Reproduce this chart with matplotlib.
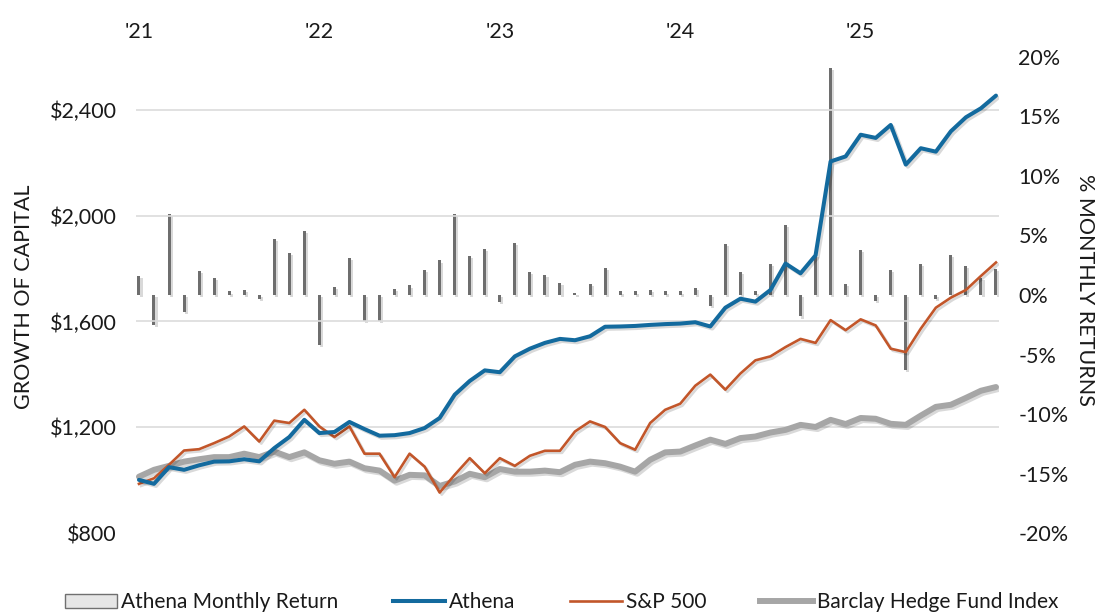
import matplotlib
matplotlib.use("Agg")
import matplotlib.pyplot as plt
import matplotlib.patheffects as pe
from matplotlib.patches import Patch
from matplotlib.lines import Line2D
import numpy as np

plt.rcParams['font.family'] = ['Lato', 'DejaVu Sans']

year_labels = ["'21", "'22", "'23", "'24", "'25"]
year_positions = [0, 12, 24, 36, 48]

monthly_return = [1.6, -2.5, 6.8, -1.4, 2.0, 1.45, 0.3, 0.4, -0.3, 4.7,
                  3.5, 5.4, -4.2, 0.7, 3.1, -2.2, -2.2, 0.5, 0.8, 2.1,
                  2.9, 6.8, 3.3, 3.9, -0.6, 4.4, 1.9, 1.7, 1.0, 0.2,
                  0.95, 2.3, 0.3, 0.3, 0.4, 0.3, 0.3, 0.6, -0.9, 4.3,
                  1.95, 0.3, 2.6, 5.85, -1.8, 3.4, 19.1, 0.9, 3.8, -0.5,
                  2.1, -6.3, 2.6, -0.3, 3.4, 2.45, 1.4, 2.2]

athena = [1001, 986, 1049, 1039, 1056, 1070, 1071, 1079, 1071, 1121,
          1163, 1228, 1178, 1182, 1220, 1193, 1168, 1170, 1178, 1197,
          1235, 1323, 1375, 1415, 1408, 1468, 1497, 1519, 1534, 1529,
          1544, 1580, 1581, 1583, 1587, 1590, 1592, 1597, 1581, 1652,
          1686, 1675, 1719, 1819, 1782, 1850, 2205, 2224, 2306, 2294,
          2343, 2193, 2255, 2242, 2319, 2372, 2406, 2454]

sp500 = [986, 1007, 1058, 1112, 1117, 1140, 1165, 1203, 1146, 1225,
         1216, 1266, 1203, 1163, 1203, 1100, 1100, 1011, 1100, 1051,
         953, 1020, 1083, 1026, 1083, 1054, 1092, 1111, 1111, 1184,
         1222, 1201, 1140, 1115, 1216, 1266, 1289, 1357, 1399, 1342,
         1403, 1453, 1468, 1503, 1534, 1519, 1605, 1567, 1608, 1585,
         1497, 1484, 1573, 1652, 1690, 1719, 1772, 1823]

barclay = [1013, 1039, 1054, 1070, 1079, 1087, 1087, 1100, 1087, 1108,
           1087, 1105, 1075, 1062, 1070, 1045, 1036, 998, 1020, 1018,
           978, 995, 1024, 1011, 1042, 1032, 1032, 1036, 1030, 1058,
           1070, 1064, 1051, 1032, 1077, 1105, 1108, 1131, 1153, 1137,
           1159, 1165, 1180, 1190, 1209, 1201, 1228, 1212, 1235, 1232,
           1213, 1209, 1244, 1277, 1285, 1311, 1338, 1352]

left_ticks = [800, 1200, 1600, 2000, 2400]
right_ticks = [-20, -15, -10, -5, 0, 5, 10, 15, 20]

c_blue = "#136A9E"
c_orange = "#C2562A"
c_gray = "#A6A6A6"
c_bar = "#6E6E6E"
c_text = "#1A1A1A"

FS = 15.5

x = np.arange(len(athena))

fig = plt.figure(figsize=(10.99, 6.16), dpi=100)
ax_bar = fig.add_axes([0.1237, 0.1347, 0.7853, 0.7728])
ax = ax_bar.twinx()

# bars (right axis)
bars = ax_bar.bar(x, monthly_return, width=0.2, color=c_bar, zorder=2)
for b in bars:
    b.set_path_effects([pe.SimplePatchShadow(offset=(1.5, -1.5), alpha=0.15, shadow_rgbFace="#000000"), pe.Normal()])
ax_bar.set_ylim(-20, 20)
ax_bar.set_yticks(right_ticks)
ax_bar.set_yticklabels([f"{t}%" for t in right_ticks])
ax_bar.yaxis.tick_right()
ax_bar.yaxis.set_label_position("right")
ax_bar.tick_params(axis='y', length=0, pad=14, labelsize=FS, labelcolor=c_text)
ax_bar.set_ylabel("% MONTHLY RETURNS", rotation=-90, fontsize=FS, color=c_text,
                  va='center', ha='center')
ax_bar.yaxis.set_label_coords(1.1, 0.51)

# x axis labels at top
ax_bar.set_xlim(-0.2, len(x) - 1 + 0.2)
ax_bar.xaxis.tick_top()
ax_bar.set_xticks(year_positions)
ax_bar.set_xticklabels(year_labels)
ax_bar.tick_params(axis='x', length=0, pad=11, labelsize=FS, labelcolor=c_text)

# lines (left axis)
ax.patch.set_visible(False)
shadow = [pe.SimpleLineShadow(offset=(1.5, -1.5), alpha=0.15), pe.Normal()]
ax.plot(x, barclay, color=c_gray, lw=4.3, zorder=3, solid_capstyle='round', path_effects=shadow)
ax.plot(x, sp500, color=c_orange, lw=1.9, zorder=4, path_effects=shadow)
ax.plot(x, athena, color=c_blue, lw=2.9, zorder=5, solid_capstyle='round', path_effects=shadow)
ax.set_ylim(800, 2600)
ax.set_yticks(left_ticks)
ax.set_yticklabels([f"${t:,}" for t in left_ticks])
ax.yaxis.tick_left()
ax.yaxis.set_label_position("left")
ax.tick_params(axis='y', length=0, pad=14, labelsize=FS, labelcolor=c_text)
ax.set_ylabel("GROWTH OF CAPITAL", fontsize=FS, color=c_text, va='center', ha='center')
ax.yaxis.set_label_coords(-0.1296, 0.497)
for t in left_ticks[1:]:
    ax.axhline(t, color="#DCDCDC", lw=1.2, zorder=1)

for a in (ax, ax_bar):
    for s in a.spines.values():
        s.set_visible(False)

handles = [
    Patch(facecolor="#E6E6E6", edgecolor="#707070", linewidth=1.0),
    Line2D([], [], color=c_blue, lw=2.9),
    Line2D([], [], color=c_orange, lw=1.9),
    Line2D([], [], color=c_gray, lw=4.3),
]
labels = ["Athena Monthly Return", "Athena", "S&P 500", "Barclay Hedge Fund Index"]
fig.legend(handles, labels, loc="center", bbox_to_anchor=(0.511, 0.022), ncol=4,
           frameon=False, fontsize=15, handlelength=2.5, handletextpad=0.2,
           columnspacing=2.6, labelcolor=c_text)

fig.savefig("out.png", dpi=100)
